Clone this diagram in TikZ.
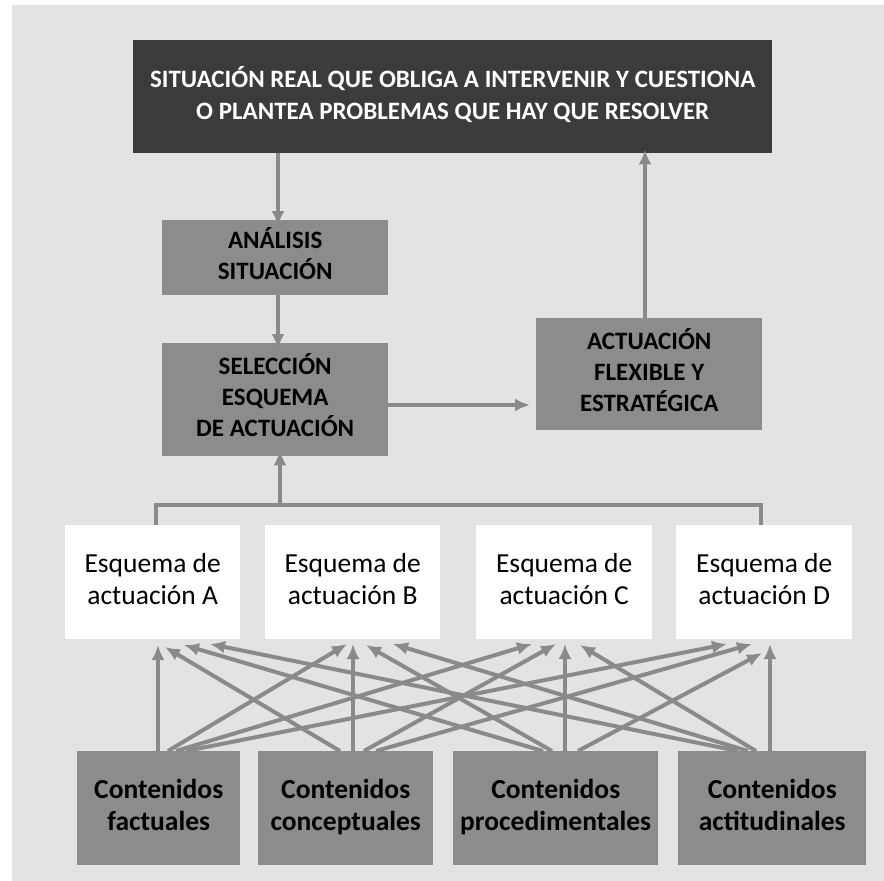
\documentclass[tikz,border=0pt]{standalone}
\usepackage{fontspec}
\setmainfont{Carlito}
\usetikzlibrary{arrows.meta}
\definecolor{bggray}{HTML}{E3E3E3}
\definecolor{darkbox}{HTML}{3B3B3B}
\definecolor{midbox}{HTML}{8C8C8C}
\definecolor{arrowgray}{HTML}{8A8A8A}
\newcommand{\myln}[1]{\strut#1}
\tikzset{
  box/.style={anchor=north west, inner sep=0pt, align=center, draw=none},
  topbox/.style={box, fill=darkbox, text=white, font=\fontsize{25}{32}\selectfont\bfseries},
  midbx/.style={box, fill=midbox, text=black, font=\fontsize{25}{31}\selectfont\bfseries},
  esqbox/.style={box, fill=white, text=black, font=\fontsize{27.5}{32}\selectfont},
  conbox/.style={box, fill=midbox, text=black, font=\fontsize{27.5}{32}\selectfont\bfseries},
  conn/.style={draw=arrowgray, line width=4pt, -{Latex[length=15pt,width=13pt]}},
  bar/.style={draw=arrowgray, line width=4pt}
}
\begin{document}
\begin{tikzpicture}[x=1pt,y=-1pt]
\useasboundingbox (0,0) rectangle (884,881);
\fill[white] (0,0) rectangle (884,881);
\fill[bggray] (12,5) rectangle (884,881);

\node[topbox, minimum width=639pt, minimum height=113pt] (top) at (133,40)
  {\myln{SITUACIÓN REAL QUE OBLIGA A INTERVENIR Y CUESTIONA}\\\myln{O PLANTEA PROBLEMAS QUE HAY QUE RESOLVER}};
\node[midbx, minimum width=226pt, minimum height=75pt] (ana) at (162,220) {\myln{ANÁLISIS}\\\myln{SITUACIÓN}};
\node[midbx, minimum width=226pt, minimum height=113pt] (sel) at (162,343) {\myln{SELECCIÓN}\\\myln{ESQUEMA}\\\myln{DE ACTUACIÓN}};
\node[midbx, minimum width=226pt, minimum height=112pt] (act) at (536,318) {\myln{ACTUACIÓN}\\\myln{FLEXIBLE Y}\\\myln{ESTRATÉGICA}};

\node[esqbox, minimum width=175pt, minimum height=114pt] (ea) at (65,525) {\myln{Esquema de}\\\myln{actuación A}};
\node[esqbox, minimum width=175pt, minimum height=114pt] (eb) at (265,525) {\myln{Esquema de}\\\myln{actuación B}};
\node[esqbox, minimum width=176pt, minimum height=114pt] (ec) at (476,525) {\myln{Esquema de}\\\myln{actuación C}};
\node[esqbox, minimum width=176pt, minimum height=114pt] (ed) at (676,525) {\myln{Esquema de}\\\myln{actuación D}};

\node[conbox, minimum width=163pt, minimum height=114pt] (cf) at (77,751) {\myln{Contenidos}\\\myln{factuales}};
\node[conbox, minimum width=175pt, minimum height=114pt] (cc) at (258,751) {\myln{Contenidos}\\\myln{conceptuales}};
\node[conbox, minimum width=205pt, minimum height=114pt] (cp) at (453,751) {\myln{Contenidos}\\\myln{procedimentales}};
\node[conbox, minimum width=188pt, minimum height=114pt] (ca) at (678,751) {\myln{Contenidos}\\\myln{actitudinales}};

% top flow
\draw[conn] (top.south -| 278,0) -- ([yshift=-6pt]ana.north -| 278,0);
\draw[conn] (ana.south -| 278,0) -- ([yshift=-6pt]sel.north -| 278,0);
\draw[conn] (sel.east |- 0,405) -- ([xshift=-6pt]act.west |- 0,405);
\draw[conn] (act.north -| 645,0) -- ([yshift=4pt]top.south -| 645,0);

% bracket
\coordinate (barL) at (156,505);
\coordinate (barR) at (761,505);
\coordinate (barM) at (280,505);
\draw[bar] (ea.north -| barL) -- (barL) -- (barR) -- (ed.north -| barR);
\draw[conn] (barM) -- ([yshift=6pt]sel.south -| barM);

% contenidos -> esquemas
\coordinate (ta1) at (158,645); \coordinate (ta2) at (165,647); \coordinate (ta3) at (184,645); \coordinate (ta4) at (210,644);
\coordinate (tb1) at (347,644); \coordinate (tb2) at (353,644); \coordinate (tb3) at (366,645); \coordinate (tb4) at (393,644);
\coordinate (tc1) at (532,644); \coordinate (tc2) at (556,644); \coordinate (tc3) at (565,644); \coordinate (tc4) at (580,645);
\coordinate (td1) at (727,644); \coordinate (td2) at (752,644); \coordinate (td3) at (762,653); \coordinate (td4) at (770,644);

\coordinate (sf1) at (158,751); \coordinate (sf2) at (168,751); \coordinate (sf3) at (176,751); \coordinate (sf4) at (186,751);
\coordinate (sc1) at (340,751); \coordinate (sc2) at (353,751); \coordinate (sc3) at (364,751); \coordinate (sc4) at (376,751);
\coordinate (sp1) at (543,751); \coordinate (sp2) at (552,751); \coordinate (sp3) at (565,751); \coordinate (sp4) at (578,751);
\coordinate (sa1) at (738,751); \coordinate (sa2) at (748,751); \coordinate (sa3) at (756,751); \coordinate (sa4) at (770,751);

\foreach \s/\t in {sf1/ta1, sf2/tb1, sf3/tc1, sf4/td1,
                   sc1/ta2, sc2/tb2, sc3/tc2, sc4/td2,
                   sp1/ta3, sp2/tb3, sp3/tc3, sp4/td3,
                   sa1/ta4, sa2/tb4, sa3/tc4, sa4/td4}
  \draw[conn] (\s) -- (\t);
\end{tikzpicture}
\end{document}
